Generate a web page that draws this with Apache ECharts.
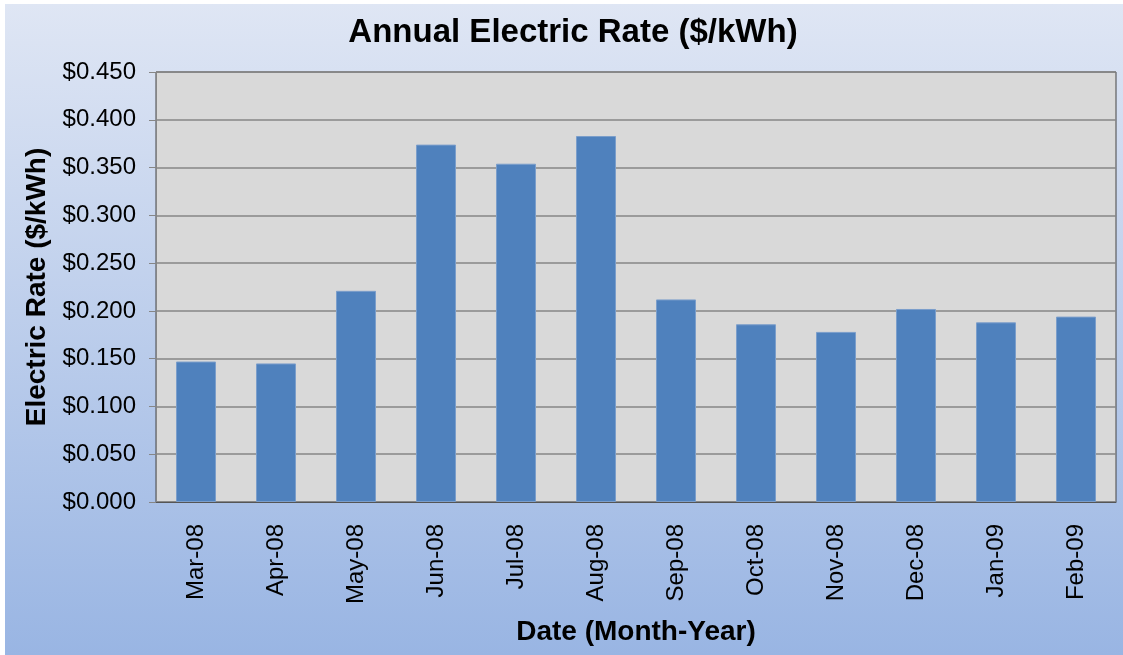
<!DOCTYPE html>
<html>
<head>
<meta charset="utf-8">
<title>Annual Electric Rate</title>
<script src="https://cdn.jsdelivr.net/npm/echarts@6/dist/echarts.min.js"></script>
<style>
  html, body { margin: 0; padding: 0; background: #ffffff; }
  #main { width: 1123px; height: 655px; }
</style>
</head>
<body>
<div id="main"></div>
<script>
// 月份
var months = ['Mar-08', 'Apr-08', 'May-08', 'Jun-08', 'Jul-08', 'Aug-08',
  'Sep-08', 'Oct-08', 'Nov-08', 'Dec-08', 'Jan-09', 'Feb-09'];
// 电价 ($/kWh)
var rates = [0.147, 0.145, 0.221, 0.374, 0.354, 0.383,
  0.212, 0.186, 0.178, 0.202, 0.188, 0.194];
// 纵坐标刻度
var yMin = 0;
var yMax = 0.45;
var yStep = 0.05;

var myChart = echarts.init(document.getElementById('main'));

var option = {
  backgroundColor: '#ffffff',
  animation: false,
  // 渐变背景 (左上留白边)
  graphic: [{
    type: 'rect',
    z: -10,
    silent: true,
    shape: { x: 5, y: 4, width: 1118, height: 651 },
    style: {
      fill: {
        type: 'linear', x: 0, y: 0, x2: 0, y2: 1,
        colorStops: [
          { offset: 0, color: '#dfe6f4' },
          { offset: 1, color: '#99b5e3' }
        ]
      }
    }
  }],
  title: {
    text: 'Annual Electric Rate ($/kWh)',
    left: 568,
    top: 11,
    textAlign: 'center',
    textStyle: {
      fontFamily: 'Liberation Sans, Arial',
      fontSize: 33,
      fontWeight: 'bold',
      color: '#000000'
    }
  },
  grid: {
    left: 156,
    top: 72,
    right: 7,
    bottom: 153,
    containLabel: false,
    outerBoundsMode: 'none',
    show: true,
    backgroundColor: '#d9d9d9',
    borderColor: '#444444',
    borderWidth: 1
  },
  xAxis: {
    type: 'category',
    data: months,
    name: 'Date (Month-Year)',
    nameLocation: 'middle',
    nameGap: 116,
    nameTextStyle: {
      fontFamily: 'Liberation Sans, Arial',
      fontSize: 28,
      fontWeight: 'bold',
      color: '#000000'
    },
    axisLine: { lineStyle: { color: '#555555', width: 1 } },
    axisTick: { show: false },
    axisLabel: {
      rotate: 90,
      margin: 22,
      fontFamily: 'Liberation Sans, Arial',
      fontSize: 24,
      color: '#000000'
    }
  },
  yAxis: {
    type: 'value',
    min: yMin,
    max: yMax,
    interval: yStep,
    name: 'Electric Rate ($/kWh)',
    nameLocation: 'middle',
    nameGap: 102,
    nameTextStyle: {
      fontFamily: 'Liberation Sans, Arial',
      fontSize: 28,
      fontWeight: 'bold',
      color: '#000000'
    },
    axisLine: { show: true, lineStyle: { color: '#868686', width: 1 } },
    axisTick: { show: true, length: 7, lineStyle: { color: '#868686' } },
    splitLine: { lineStyle: { color: '#868686', width: 1.5 } },
    axisLabel: {
      margin: 20,
      fontFamily: 'Liberation Sans, Arial',
      fontSize: 24,
      color: '#000000',
      formatter: function (v) { return '$' + v.toFixed(3); }
    }
  },
  series: [{
    type: 'bar',
    data: rates,
    barWidth: '50%',
    itemStyle: {
      color: '#4f81bd',
      borderColor: '#7b9ecb',
      borderWidth: 1
    }
  }]
};

myChart.setOption(option);
</script>
</body>
</html>
